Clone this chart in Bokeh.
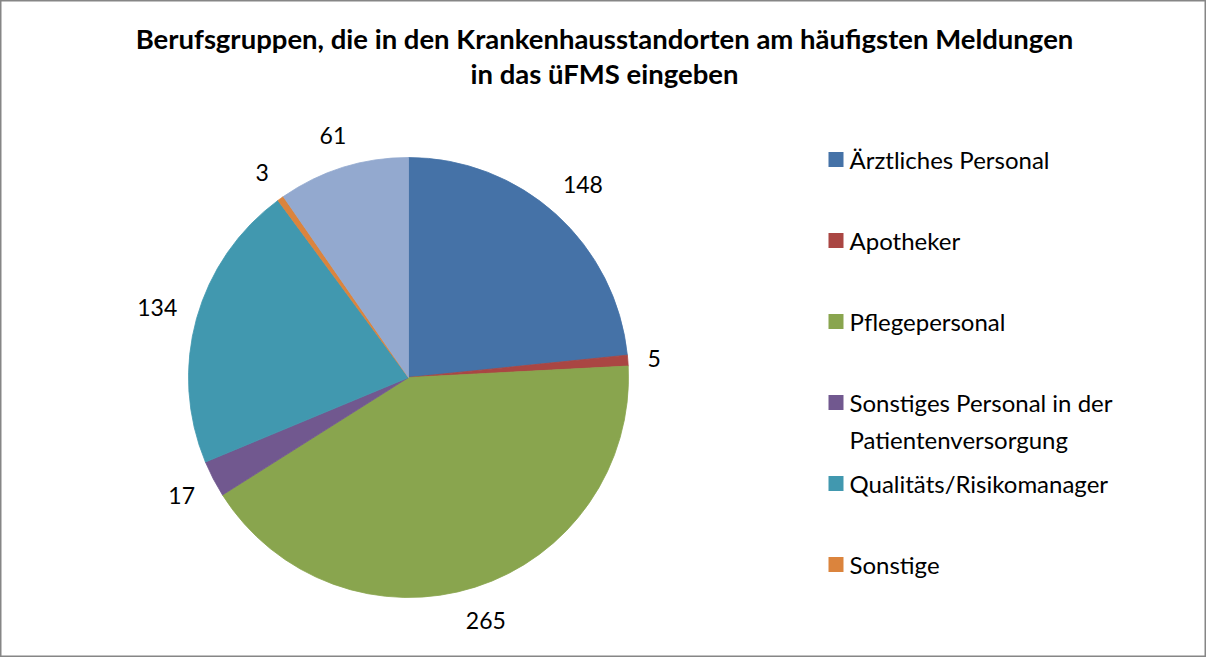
import math
from bokeh.plotting import figure
from bokeh.models import ColumnDataSource, Range1d
from bokeh.core.properties import value
from bokeh.embed import file_html
from bokeh.resources import INLINE

# ---------------- data ----------------
title_lines = ["Berufsgruppen, die in den Krankenhausstandorten am häufigsten Meldungen",
               "in das üFMS eingeben"]
categories = ["Ärztliches Personal", "Apotheker", "Pflegepersonal",
              "Sonstiges Personal in der\nPatientenversorgung",
              "Qualitäts/Risikomanager", "Sonstige"]
values = [148, 5, 265, 17, 134, 3, 61]
colors = ["#4572A7", "#AA4643", "#89A54E", "#71588F", "#4198AF", "#DB843D", "#93A9CF"]

# ---------------- layout ----------------
W, H = 1206, 657
FONT = "Lato"
cx, cy = 408, H - 377
R = 220

p = figure(width=W, height=H, output_backend="svg", toolbar_location=None,
           x_range=Range1d(0, W), y_range=Range1d(0, H), min_border=0,
           tools="")
p.axis.visible = False
p.grid.visible = False
p.outline_line_color = "#868686"
p.outline_line_width = 2
p.background_fill_color = "white"
p.border_fill_color = "white"

total = sum(values)
starts, ends, mids = [], [], []
cum = 0
for v in values:
    a0 = math.pi / 2 - 2 * math.pi * cum / total
    cum += v
    a1 = math.pi / 2 - 2 * math.pi * cum / total
    starts.append(a0)
    ends.append(a1)
    mids.append((a0 + a1) / 2)

src = ColumnDataSource(dict(start=starts, end=ends, color=colors,
                            x=[cx] * len(values), y=[cy] * len(values)))
p.wedge(x="x", y="y", radius=R, radius_units="screen", start_angle="start",
        end_angle="end", direction="clock", fill_color="color",
        line_color="color", line_width=0.8, source=src)

# data labels outside end
lx, ly, lt = [], [], []
for v, m in zip(values, mids):
    s = str(v)
    hw = 6.5 * len(s)
    hh = 11
    d = R + 19 + hw * abs(math.cos(m)) + hh * abs(math.sin(m))
    lx.append(cx + d * math.cos(m))
    ly.append(cy + d * math.sin(m))
    lt.append(s)
p.text(x=lx, y=ly, text=lt, text_align="center", text_baseline="middle",
       text_font=value(FONT), text_font_size="23px", text_color="black")

# title
p.text(x=[604, 604], y=[H - 38, H - 73], text=title_lines, text_align="center",
       text_baseline="middle", text_font=value(FONT), text_font_style="bold",
       text_font_size="27.5px", text_color="black")

# legend (6 entries shown)
leg_y = [H - (159 + 81 * i) for i in range(len(categories))]
p.scatter(x=[835.5] * len(categories), y=leg_y, marker="square", size=15,
          fill_color=colors[:len(categories)], line_color=None)
p.text(x=[849] * len(categories), y=[y + 15 for y in leg_y], text=categories,
       text_align="left", text_baseline="top", text_font=value(FONT),
       text_font_size="24px", text_color="black", text_line_height=1.3)

open("out.html", "w").write(file_html(p, INLINE))
